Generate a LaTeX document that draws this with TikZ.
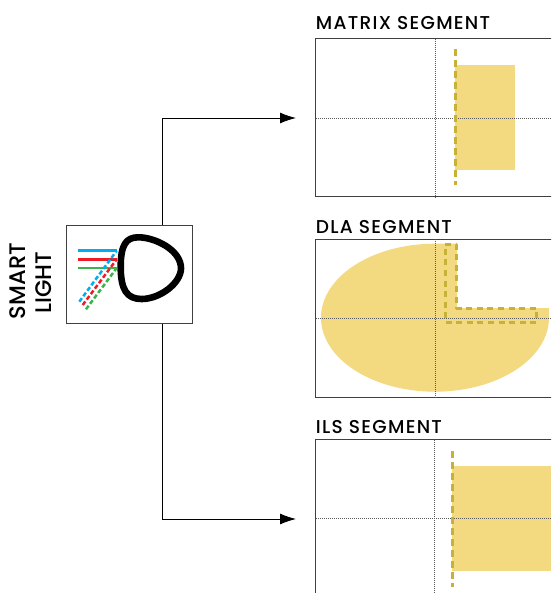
\documentclass[tikz,border=0pt]{standalone}
\usepackage{fontspec}
\setmainfont{Poppins}
\newfontfamily\seglabfont[LetterSpace=6.8]{Poppins Medium}
\newfontfamily\smartfont{Poppins Medium}
\usetikzlibrary{arrows.meta}
\definecolor{bandfill}{HTML}{F3D97F}
\definecolor{cutoff}{HTML}{C6B236}
\definecolor{lblue}{HTML}{00AEEF}
\definecolor{lred}{HTML}{ED1C24}
\definecolor{lgreen}{HTML}{39B54A}
\definecolor{framec}{HTML}{404040}
\tikzset{
  panel/.style={draw=framec,line width=1pt},
  cross/.style={draw=black!65,line width=0.8pt,dash pattern=on 1pt off 1pt},
  cutline/.style={draw=cutoff,line width=3pt,dash pattern=on 7pt off 4pt},
  cutloop/.style={draw=cutoff,line width=3pt,dash pattern=on 6pt off 4.6pt,line join=round},
  seglabel/.style={anchor=base west,inner sep=0pt,text=black,font=\seglabfont\fontsize{18.6}{20}\selectfont},
  smartlabel/.style={inner sep=0pt,rotate=90,text=black,font=\smartfont\fontsize{22.5}{24}\selectfont},
  conn/.style={draw=black,line width=0.9pt,-{Latex[length=16pt,width=11pt]}},
  beam/.style={line width=2.5pt},
  beamd/.style={line width=2.5pt,dash pattern=on 4.4pt off 2.4pt},
}
\begin{document}
\begin{tikzpicture}[x=1pt,y=-1pt]
\useasboundingbox (0,0) rectangle (551,593);
\clip (0,0) rectangle (551,593);
% panels
\draw[panel] (315.7,38.7) rectangle (570,197);
\draw[panel] (315.7,239.3) rectangle (570,397.3);
\draw[panel] (315.7,439.7) rectangle (570,610);
% fills
\fill[bandfill] (455,65) rectangle (515,170);
\fill[bandfill] (457,243.7) -- (435,243.7) arc[start angle=-90,end angle=-270,x radius=114,y radius=74]
  arc[start angle=90,end angle=0,x radius=114,y radius=74] -- (549,308) -- (457,308) -- cycle;
\fill[bandfill] (452.3,466) rectangle (551,571);
% crosshairs
\draw[cross] (435,39) -- (435,199);
\draw[cross] (316,118) -- (551,118);
\draw[cross] (435,239) -- (435,399);
\draw[cross] (316,318.3) -- (551,318.3);
\draw[cross] (434.7,440) -- (434.7,593);
\draw[cross] (316,518.7) -- (551,518.7);
% cut-off lines
\draw[cutline] (455,49) -- (455,185);
\draw[cutloop] (445,244.7) -- (456.7,244.7) -- (456.7,308.3) -- (536.7,308.3) -- (536.7,322.3) -- (445,322.3) -- cycle;
\draw[cutline] (452.3,451) -- (452.3,587);
% labels
\node[seglabel] (matrixlabel) at (315.7,29.5) {MATRIX SEGMENT};
\node[seglabel] (dlalabel) at (315.7,233.5) {DLA SEGMENT};
\node[seglabel] (ilslabel) at (315.7,433.5) {ILS SEGMENT};
\node[smartlabel] (smart) at (17.5,281) {SMART};
\node[smartlabel] (lighttext) at (43.5,282.5) {LIGHT};
% lamp box
\node[draw=framec,line width=1pt,minimum width=126pt,minimum height=97.6pt,inner sep=0pt,fill=white] (lamp) at (129.3,274.5) {};
\coordinate (up) at (296,118);
\coordinate (down) at (296,519);
\draw[conn] (lamp.north -| 162,118) -- (162,118) -- (up);
\draw[conn] (lamp.south -| 162,118) -- (162,519) -- (down);
% reflector
\draw[line width=6.6pt,line join=round]
  (120.7,266.7) .. controls (120.7,245) and (126,237.3) .. (138.3,237.3)
  .. controls (155,237.3) and (181,250) .. (181,268.3)
  .. controls (181,283) and (160,299) .. (141.7,299)
  .. controls (127,299) and (120.7,290) .. cycle;
% beams
\draw[beam,lblue] (78,250.7) -- (116.7,250.7);
\draw[beam,lred] (78,259.3) -- (116.7,259.3);
\draw[beam,lgreen] (78,268) -- (116.7,268);
\draw[beamd,lblue] (79.3,301.7) -- (116.7,250.7);
\draw[beamd,lred] (82.7,305) -- (116.7,259.3);
\draw[beamd,lgreen] (86,309.3) -- (116.7,268);
\end{tikzpicture}
\end{document}
